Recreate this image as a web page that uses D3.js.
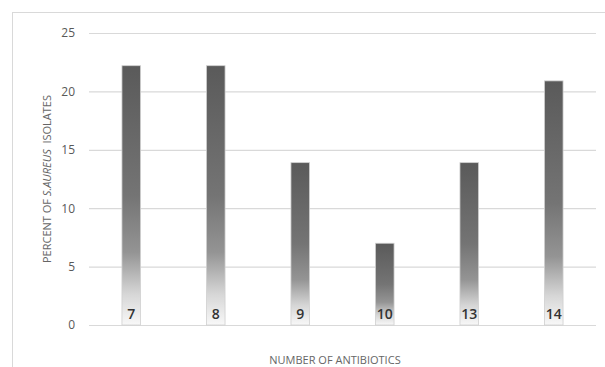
<!DOCTYPE html>
<html><head><meta charset="utf-8">
<script src="https://cdn.jsdelivr.net/npm/d3@7"></script>
<style>body{margin:0;background:#fff}svg{display:block}</style>
</head><body>
<svg id="c" width="605" height="367"></svg>
<script>
const categories = ["7","8","9","10","13","14"];
const values = [22.2, 22.2, 13.9, 7.0, 13.9, 20.9];
const yTicks = [0,5,10,15,20,25];

const svg = d3.select("#c");
const font = "'Open Sans', 'Noto Sans', sans-serif";
const m = {l:89, r:596, t:33, b:325};

svg.append("rect").attr("x",12.5).attr("y",12.5).attr("width",700).attr("height",500)
  .attr("fill","none").attr("stroke","#d9d9d9").attr("stroke-width",1);

const x = d3.scaleBand().domain(categories).range([m.l, m.r]).paddingInner(0.78).paddingOuter(0.39);
const y = d3.scaleLinear().domain([0,25]).range([m.b, m.t]);

const defs = svg.append("defs");
const g = defs.append("linearGradient").attr("id","bg").attr("x1",0).attr("y1",0).attr("x2",0).attr("y2",1);
[[0,"#5a5a5a"],[0.5,"#747474"],[0.72,"#949494"],[0.88,"#d6d6d6"],[1,"#f8f8f8"]].forEach(s=>
  g.append("stop").attr("offset",s[0]).attr("stop-color",s[1]));

const yAxis = d3.axisLeft(y).tickValues(yTicks).tickSize(-(m.r-m.l)).tickPadding(14);
const ga = svg.append("g").attr("transform",`translate(${m.l},0)`).call(yAxis);
ga.select(".domain").remove();
ga.selectAll(".tick line").attr("stroke","#d9d9d9").attr("stroke-width",1.2);
ga.selectAll(".tick text").attr("fill","#595959").style("font-family",font).style("font-size","12px");

svg.append("g").selectAll("rect").data(values).join("rect")
  .attr("x",(d,i)=>x(categories[i]))
  .attr("y",d=>y(d))
  .attr("width",x.bandwidth())
  .attr("height",d=>y(0)-y(d))
  .attr("fill","url(#bg)")
  .attr("stroke","#d0d0d0").attr("stroke-width",0.8);

svg.append("g").selectAll("text").data(categories).join("text")
  .attr("x",d=>x(d)+x.bandwidth()/2)
  .attr("y",319)
  .attr("text-anchor","middle")
  .attr("fill","#333")
  .style("font-family",font).style("font-size","14px").style("font-weight","600")
  .text(d=>d);

const yt = svg.append("text")
  .attr("transform",`translate(51,${(m.t+m.b)/2}) rotate(-90)`)
  .attr("text-anchor","middle")
  .attr("fill","#666")
  .style("font-family",font).style("font-size","11px");
yt.append("tspan").text("PERCENT OF ");
yt.append("tspan").style("font-style","italic").text("S.AUREUS");
yt.append("tspan").text("\u00a0 ISOLATES");

svg.append("text").attr("x",335).attr("y",364).attr("text-anchor","middle")
  .attr("fill","#666").style("font-family",font).style("font-size","11px")
  .text("NUMBER OF ANTIBIOTICS");
</script>
</body></html>
